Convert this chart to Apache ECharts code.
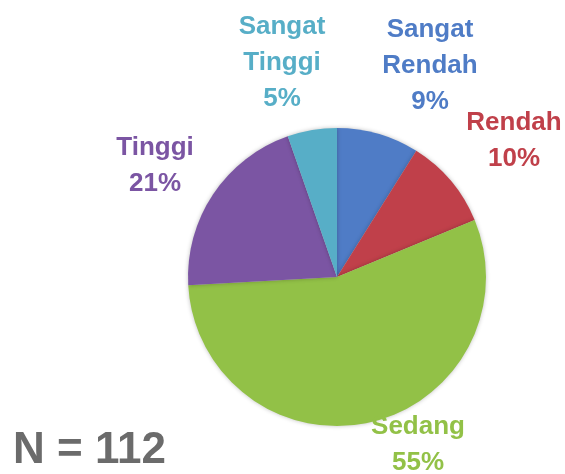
<!DOCTYPE html>
<html>
<head>
<meta charset="utf-8">
<script src="https://cdn.jsdelivr.net/npm/echarts@6/dist/echarts.min.js"></script>
<style>
    html, body { margin: 0; padding: 0; background: #fff; }
    #chart { width: 565px; height: 474px; }
</style>
</head>
<body>
<div id="chart"></div>
<script>
const categories = ['Sangat Rendah', 'Rendah', 'Sedang', 'Tinggi', 'Sangat Tinggi'];
const counts = [10, 11, 62, 23, 6];
const sliceColors = ['#4f7cc6', '#c0404a', '#92c147', '#7b55a3', '#57aec7'];
const labelColors = ['#4f7cc6', '#c0404a', '#92c147', '#7b55a3', '#57aec7'];
const totalLabel = 'N = 112';

// label block centres, picked to sit where the original put them
const labelSpots = [[430, 66], [514, 141], [418, 445], [155, 166], [282, 63]];

const el = document.getElementById('chart');
const pie = echarts.init(el);

pie.setOption({
    animation: false,
    title: {
        text: totalLabel,
        left: 8,
        top: 424,
        textStyle: {
            fontFamily: 'Liberation Sans',
            fontSize: 44,
            fontWeight: 'bold',
            color: '#6b6b6b'
        }
    },
    series: [{
        type: 'pie',
        center: [337, 277],
        radius: 149,
        startAngle: 90,
        clockwise: true,
        itemStyle: {
            shadowBlur: 4,
            shadowColor: 'rgba(0,0,0,0.25)'
        },
        label: {
            show: true,
            formatter: p => p.name.replace(' ', '\n') + '\n' + Math.round(p.percent) + '%',
            fontFamily: 'Liberation Sans',
            fontSize: 26,
            fontWeight: 'bold',
            lineHeight: 36,
            align: 'center',
            overflow: 'none'
        },
        labelLine: { show: false },
        labelLayout: params => ({
            x: labelSpots[params.dataIndex][0],
            y: labelSpots[params.dataIndex][1],
            align: 'center',
            verticalAlign: 'middle'
        }),
        data: categories.map((name, i) => ({
            name,
            value: counts[i],
            itemStyle: { color: sliceColors[i] },
            label: { color: labelColors[i] }
        }))
    }]
});
</script>
</body>
</html>
